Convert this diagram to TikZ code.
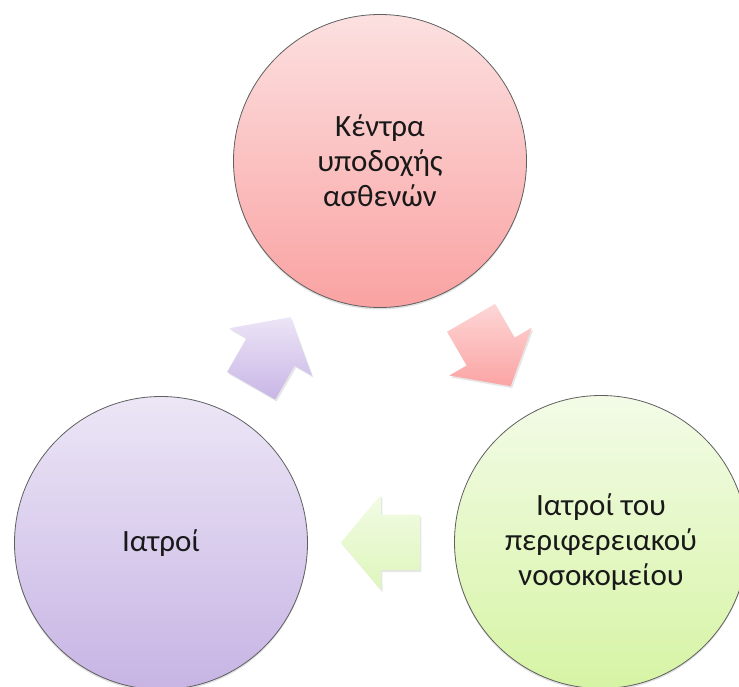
\documentclass[tikz,border=0pt]{standalone}
\usepackage{fontspec}
\setmainfont{Carlito}
\usetikzlibrary{shadows,shapes.arrows,calc}
\definecolor{redtop}{RGB}{252,224,224}
\definecolor{redbot}{RGB}{250,162,162}
\definecolor{greentop}{RGB}{243,251,231}
\definecolor{greenbot}{RGB}{214,244,164}
\definecolor{violettop}{RGB}{236,230,246}
\definecolor{violetbot}{RGB}{199,180,228}
\definecolor{redarrowtop}{RGB}{253,214,214}
\definecolor{redarrowbot}{RGB}{252,164,164}
\definecolor{greenarrowtop}{RGB}{242,251,228}
\definecolor{greenarrowbot}{RGB}{222,246,188}
\definecolor{violetarrowtop}{RGB}{236,228,246}
\definecolor{violetarrowbot}{RGB}{200,182,230}
\definecolor{rimgray}{RGB}{95,95,95}
\tikzstyle{bubble}=[circle,draw=rimgray,line width=0.8pt,minimum size=293pt,inner sep=0pt,align=center,text=black!90,font=\fontsize{31}{35}\selectfont,drop shadow={shadow xshift=0pt,shadow yshift=-2pt,opacity=0.25}]
\tikzstyle{cyclearrow}=[single arrow,draw=none,inner xsep=0pt,inner ysep=27.5pt,minimum height=79pt,single arrow head extend=20pt,single arrow tip angle=100,drop shadow={shadow xshift=1.5pt,shadow yshift=-2pt,opacity=0.2}]

\begin{document}
\begin{tikzpicture}[x=1pt,y=1pt]

\clip (0,0) rectangle (739,686);

%circles
    \foreach \pos/\name/\txt/\col in {{(380,525)/intake/{Κέντρα\\υποδοχής\\ασθενών}/red}, {(601,144)/hospital/{Ιατροί του\\περιφερειακού\\νοσοκομείου}/green}, {(161,143)/doctors/{Ιατροί}/violet}}
        \node[bubble,top color=\col top,bottom color=\col bot] (\name) at \pos {\txt};

%arrows, half way between the circles
    \foreach \from/\to/\col in {intake/hospital/red, hospital/doctors/green, doctors/intake/violet}
        \path let \p1=($(\to)-(\from)$), \n1={atan2(\y1,\x1)}, \p2=($(\from)!0.5!(\to)$) in
            node[cyclearrow,rotate=\n1,top color=\col arrowtop,bottom color=\col arrowbot] (\from-\to) at ($(\p2)!11pt!(\from)$) {};

\end{tikzpicture}
\end{document}
